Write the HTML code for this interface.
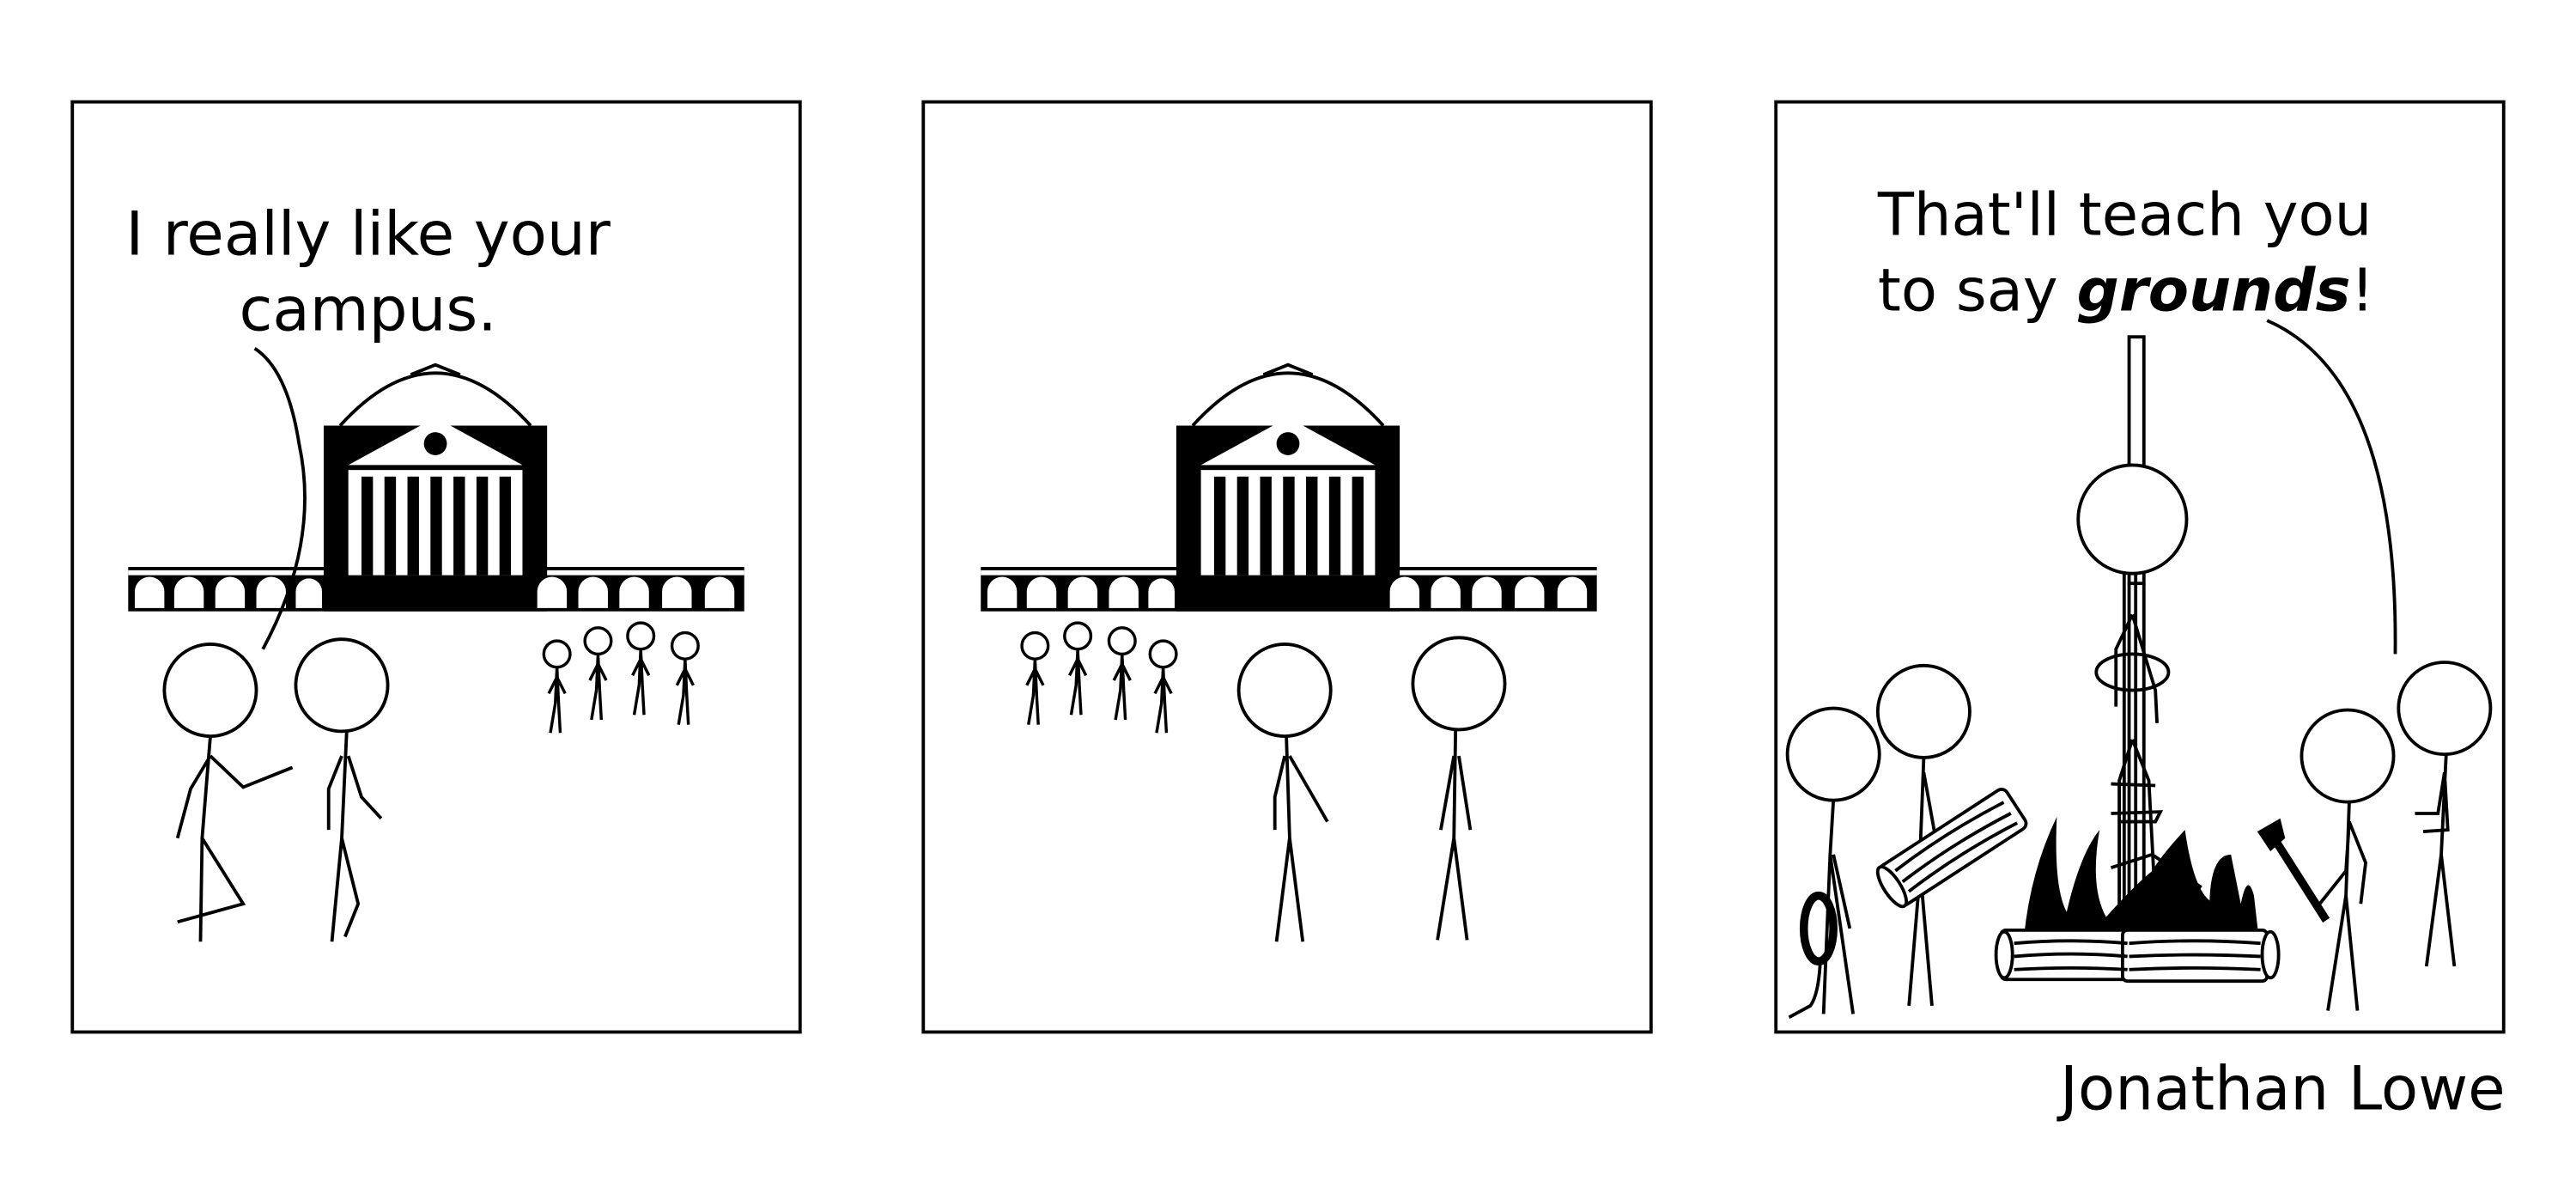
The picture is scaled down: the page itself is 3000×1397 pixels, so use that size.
<!DOCTYPE html>
<html><head><meta charset="utf-8"><style>
html,body{margin:0;padding:0;background:#fff;width:3000px;height:1397px;overflow:hidden}
svg{display:block}
text{font-family:"DejaVu Sans","Liberation Sans",sans-serif;fill:#000}
</style></head><body>
<svg width="3000" height="1397" viewBox="0 0 1568 730.2">
<defs>
<g id="building">
  <path d="M207,259 Q265,195 323,259" fill="none" stroke="#000" stroke-width="2"/>
  <path d="M250,228 L265,222 L280,228" fill="none" stroke="#000" stroke-width="2"/>
  <rect x="78" y="345" width="375" height="27" fill="#000"/>
  <rect x="78" y="347" width="375" height="3" fill="#fff"/>
  <rect x="197" y="259" width="136" height="113" fill="#000"/>
  <polygon points="212,283 265,254 318,283" fill="#fff"/>
  <circle cx="265" cy="270" r="7" fill="#000"/>
  <rect x="212" y="286" width="106" height="64" fill="#fff"/>
  <g fill="#000">
    <rect x="220" y="290" width="7" height="60"/><rect x="234" y="290" width="7" height="60"/>
    <rect x="248" y="290" width="7" height="60"/><rect x="262" y="290" width="7" height="60"/>
    <rect x="276" y="290" width="7" height="60"/><rect x="290" y="290" width="7" height="60"/>
    <rect x="304" y="290" width="7" height="60"/>
  </g>
  <g fill="#fff">
    <path d="M82,370 v-10 a9,9 0 0 1 18,0 v10z"/><path d="M106,370 v-10 a9,9 0 0 1 18,0 v10z"/>
    <path d="M131,370 v-10 a9,9 0 0 1 18,0 v10z"/><path d="M156,370 v-10 a9,9 0 0 1 18,0 v10z"/>
    <path d="M180,370 v-10 a8,8 0 0 1 16,0 v10z"/>
    <path d="M327,370 v-10 a9,9 0 0 1 18,0 v10z"/><path d="M352,370 v-10 a9,9 0 0 1 18,0 v10z"/>
    <path d="M377,370 v-10 a9,9 0 0 1 18,0 v10z"/><path d="M403,370 v-10 a9,9 0 0 1 18,0 v10z"/>
    <path d="M429,370 v-10 a9,9 0 0 1 18,0 v10z"/>
  </g>
</g>
<g id="tiny" fill="none" stroke="#000" stroke-width="1.8">
  <circle cx="0" cy="0" r="8"/>
  <path d="M0,8 L-1,30 M0,8 L1,30 M-1,30 L-4,48 M1,30 L2,48 M0,14 L-5,24 M0,14 L5,24"/>
</g>
</defs>

<g fill="none" stroke="#000" stroke-width="2">
  <rect x="44" y="62" width="443" height="566"/>
  <rect x="562" y="62" width="443" height="566"/>
  <rect x="1081" y="62" width="443" height="566"/>
</g>

<!-- Panel 1 -->
<g>
<use href="#building"/>
<text x="224" y="155" font-size="37" text-anchor="middle">I really like your</text>
<text x="224" y="201" font-size="37" text-anchor="middle">campus.</text>
<g fill="none" stroke="#000" stroke-width="2">
  <path d="M160,395 Q195,330 182,270 Q175,225 155,212"/>
  <g>
    <circle cx="128" cy="420" r="28"/>
    <path d="M128,448 L123,510 L122,573 M123,510 L148,550 L108,561 M128,460 L116,480 L108,510 M128,460 L148,479 L178,467"/>
  </g>
  <g>
    <circle cx="208" cy="417" r="28"/>
    <path d="M211,445 L208,510 L202,573 M208,510 L218,550 L210,570 M208,460 L200,480 L200,505 M212,460 L220,485 L232,498"/>
  </g>
</g>
<use href="#tiny" x="339" y="398"/><use href="#tiny" x="364" y="390"/><use href="#tiny" x="390" y="387"/><use href="#tiny" x="417" y="393"/>
</g>

<!-- Panel 2 -->
<g>
<use href="#building" x="519"/>
<use href="#tiny" x="630" y="393"/><use href="#tiny" x="656" y="387"/><use href="#tiny" x="683" y="390"/><use href="#tiny" x="708" y="398"/>
<g fill="none" stroke="#000" stroke-width="2">
  <circle cx="782" cy="420" r="28"/>
  <path d="M783,448 L785,510 L777,573 M785,510 L793,573 M782,460 L776,485 L776,505 M785,460 L808,500"/>
  <circle cx="888" cy="416" r="28"/>
  <path d="M886,444 L885,510 L875,572 M885,510 L893,572 M885,460 L877,505 M888,460 L895,505"/>
</g>
</g>

<!-- Panel 3 -->
<g>
<text x="1143" y="143" font-size="36">That'll teach you</text>
<text x="1143" y="189" font-size="36">to say <tspan font-weight="bold" font-style="italic">grounds</tspan>!</text>
<g fill="none" stroke="#000" stroke-width="2">
  <path d="M1380,195 Q1460,230 1458,398"/>
  <rect x="1296" y="205" width="9" height="150" fill="#fff"/>
  <path d="M1296,355 V562 M1305,355 V562"/>
  <ellipse cx="1298" cy="316" rx="33" ry="33" fill="#fff"/>
  <path d="M1293,349 V555 M1300,349 V555 M1298,374 L1288,395 L1288,430 M1298,374 L1312,420 L1313,440 M1298,450 L1290,475 L1290,550 M1298,450 L1308,475 L1312,550"/>
  <ellipse cx="1298" cy="409" rx="22" ry="11"/>
  <path d="M1285,477 L1312,478 M1285,495 L1315,494 L1312,500 L1290,500"/>
  <!-- left figures -->
  <circle cx="1116" cy="459" r="28"/>
  <path d="M1116,487 L1114,520 L1110,617 M1114,520 L1128,617 M1116,520 L1126,565"/>
  <ellipse cx="1107" cy="565" rx="9" ry="20" stroke-width="5"/>
  <path d="M1108,585 Q1107,605 1102,612 L1089,619"/>
  <circle cx="1171" cy="433" r="28"/>
  <path d="M1171,461 L1168,540 L1162,612 M1168,520 L1176,612 M1171,470 L1180,520"/>
  <g transform="rotate(-33 1183 518)">
    <rect x="1143" y="505" width="92" height="28" fill="#fff" rx="4"/>
    <ellipse cx="1145" cy="519" rx="5" ry="14" fill="#fff"/>
    <path d="M1152,512 Q1190,509 1230,513 M1152,520 Q1190,517 1230,521 M1152,527 Q1190,524 1230,528"/>
  </g>
  <!-- right figures -->
  <circle cx="1429" cy="460" r="28"/>
  <path d="M1430,488 L1428,545 L1417,615 M1428,545 L1435,615 M1430,500 L1440,525 L1437,550 M1430,500 L1428,530 L1412,550"/>
  <path d="M1381,505 L1416,560" stroke-width="5"/>
  <circle cx="1488" cy="431" r="28"/>
  <path d="M1489,459 L1486,520 L1477,588 M1486,520 L1494,588 M1488,470 L1484,495 L1470,495 M1488,470 L1490,505 L1475,506"/>
</g>
<path d="M1374,506 L1388,498 L1391,510 L1382,518 Z" fill="#000"/>
<g>
  <path d="M1232,570 Q1236,530 1252,497 Q1250,540 1258,555 Q1266,520 1278,505 Q1272,540 1282,558 Q1298,540 1310,530 Q1316,520 1330,505 Q1335,540 1345,548 Q1346,520 1358,520 Q1362,540 1364,550 Q1368,530 1372,545 L1376,580 L1232,580 Z" fill="#000"/>
  <path d="M1285,528 L1310,520 L1340,540" fill="none" stroke="#000" stroke-width="2"/>
</g>
<g fill="#fff" stroke="#000" stroke-width="2">
  <rect x="1218" y="566" width="80" height="30" rx="3"/>
  <ellipse cx="1220" cy="581" rx="5" ry="14"/>
  <rect x="1292" y="566" width="88" height="31" rx="3"/>
  <ellipse cx="1382" cy="581" rx="5" ry="14"/>
  <path fill="none" d="M1226,574 Q1260,571 1295,574 M1226,582 Q1260,579 1295,582 M1226,590 Q1260,588 1295,590 M1296,574 Q1335,571 1376,574 M1296,582 Q1335,580 1376,582 M1296,590 Q1335,588 1376,590"/>
</g>
</g>

<text x="1525" y="675" font-size="37" text-anchor="end">Jonathan Lowe</text>
</svg>
</body></html>
